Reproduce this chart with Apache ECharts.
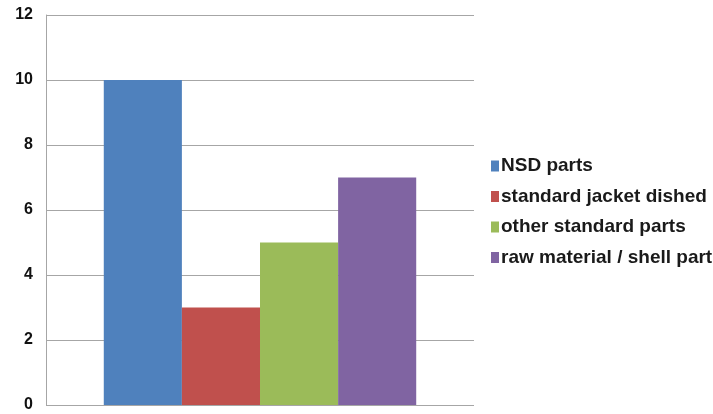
<!DOCTYPE html>
<html>
<head>
<meta charset="utf-8">
<script src="https://cdn.jsdelivr.net/npm/echarts@6/dist/echarts.min.js"></script>
<style>
  html, body { margin: 0; padding: 0; background: #fff; }
  #chart { width: 713px; height: 414px; }
</style>
</head>
<body>
<div id="chart"></div>
<script>
// Part counts by group
const categories = [''];
const seriesNames = ['NSD parts', 'standard jacket dished', 'other standard parts', 'raw material / shell part'];
const seriesValues = [[10], [3], [5], [7]];
const seriesColors = ['#4f81bd', '#c0504d', '#9bbb59', '#8064a2'];
const yTicks = [0, 2, 4, 6, 8, 10, 12];

const chart = echarts.init(document.getElementById('chart'), null, { renderer: 'canvas' });

const series = seriesNames.map((name, i) => ({
  name: name,
  type: 'bar',
  data: seriesValues[i],
  barGap: '0%',
  barCategoryGap: '27%',
  itemStyle: { color: seriesColors[i] }
}));

chart.setOption({
  animation: false,
  backgroundColor: '#ffffff',
  grid: { left: 46, right: 239, top: 15, bottom: 9, containLabel: false },
  legend: {
    orient: 'vertical',
    left: 491,
    top: 156,
    padding: 0,
    itemWidth: 8,
    itemHeight: 11,
    itemGap: 10.5,
    icon: 'rect',
    textStyle: {
      fontFamily: '"Liberation Sans", Arial, sans-serif',
      fontWeight: 'bold',
      fontSize: 19,
      lineHeight: 20,
      color: '#1a1a1a',
      padding: [0, 0, 0, -3]
    },
    data: seriesNames
  },
  xAxis: {
    type: 'category',
    data: categories,
    axisLine: { show: false },
    axisTick: { show: false },
    axisLabel: { show: false }
  },
  yAxis: {
    type: 'value',
    min: yTicks[0],
    max: yTicks[yTicks.length - 1],
    interval: 2,
    axisLine: { show: true, lineStyle: { color: '#a6a6a6', width: 1 } },
    axisTick: { show: false },
    axisLabel: {
      margin: 13,
      fontFamily: '"Liberation Sans", Arial, sans-serif',
      fontWeight: 'bold',
      fontSize: 16,
      color: '#111'
    },
    splitLine: { lineStyle: { color: '#a6a6a6', width: 1 } }
  },
  series: series
});
</script>
</body>
</html>
